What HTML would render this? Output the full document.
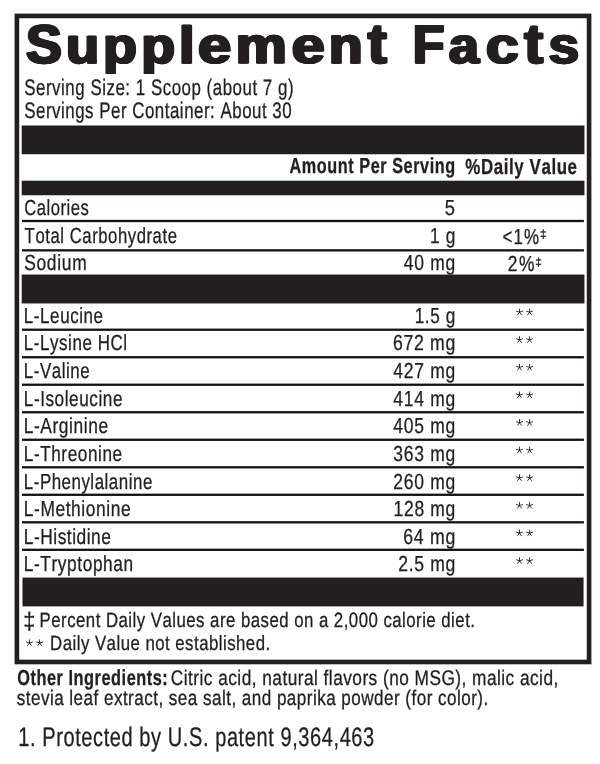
<!DOCTYPE html>
<html><head><meta charset="utf-8"><title>Supplement Facts</title>
<style>
html,body{margin:0;padding:0;background:#fff;}
body{width:600px;height:764px;overflow:hidden;}
svg{display:block;will-change:transform;}
svg text{text-rendering:geometricPrecision;font-family:"Liberation Sans",sans-serif;fill:#231f20;stroke:#231f20;stroke-width:0;font-kerning:none;}

</style></head>
<body>
<svg width="600" height="764" viewBox="0 0 600 764">
<rect x="0" y="0" width="600" height="764" fill="#fff"/>
<rect x="16.88" y="15.93" width="572.20" height="646.05" fill="none" stroke="#231f20" stroke-width="4.65"/>
<rect x="21.70" y="125.50" width="562.75" height="28.75" fill="#231f20"/>
<rect x="21.70" y="180.70" width="562.75" height="14.55" fill="#231f20"/>
<rect x="21.70" y="274.55" width="562.75" height="28.90" fill="#231f20"/>
<rect x="22.45" y="577.55" width="561.10" height="28.85" fill="#231f20"/>
<rect x="22.00" y="219.85" width="561.90" height="2.30" fill="#161213"/>
<rect x="22.00" y="249.20" width="561.90" height="2.30" fill="#161213"/>
<rect x="22.00" y="328.58" width="561.90" height="2.30" fill="#161213"/>
<rect x="22.00" y="356.09" width="561.90" height="2.30" fill="#161213"/>
<rect x="22.00" y="383.60" width="561.90" height="2.30" fill="#161213"/>
<rect x="22.00" y="411.11" width="561.90" height="2.30" fill="#161213"/>
<rect x="22.00" y="438.62" width="561.90" height="2.30" fill="#161213"/>
<rect x="22.00" y="466.13" width="561.90" height="2.30" fill="#161213"/>
<rect x="22.00" y="493.64" width="561.90" height="2.30" fill="#161213"/>
<rect x="22.00" y="521.15" width="561.90" height="2.30" fill="#161213"/>
<rect x="22.00" y="548.66" width="561.90" height="2.30" fill="#161213"/>
<text transform="translate(25.36,62.95) scale(0.5341,0.5448)" font-size="100.0" font-weight="bold" style="stroke-width:2.621px;stroke-linejoin:round">S</text>
<text transform="translate(26.16,62.95) scale(0.5341,0.5448)" font-size="100.0" font-weight="bold" style="stroke-width:2.621px;stroke-linejoin:round">S</text>
<text transform="translate(26.96,62.95) scale(0.5341,0.5448)" font-size="100.0" font-weight="bold" style="stroke-width:2.621px;stroke-linejoin:round">S</text>
<text transform="translate(65.14,63.06) scale(0.5425,0.5036)" font-size="100.0" font-weight="bold" style="stroke-width:2.580px;stroke-linejoin:round">u</text>
<text transform="translate(65.94,63.06) scale(0.5425,0.5036)" font-size="100.0" font-weight="bold" style="stroke-width:2.580px;stroke-linejoin:round">u</text>
<text transform="translate(66.74,63.06) scale(0.5425,0.5036)" font-size="100.0" font-weight="bold" style="stroke-width:2.580px;stroke-linejoin:round">u</text>
<text transform="translate(102.24,63.21) scale(0.5557,0.5037)" font-size="100.0" font-weight="bold" style="stroke-width:2.520px;stroke-linejoin:round">p</text>
<text transform="translate(103.04,63.21) scale(0.5557,0.5037)" font-size="100.0" font-weight="bold" style="stroke-width:2.520px;stroke-linejoin:round">p</text>
<text transform="translate(103.84,63.21) scale(0.5557,0.5037)" font-size="100.0" font-weight="bold" style="stroke-width:2.520px;stroke-linejoin:round">p</text>
<text transform="translate(140.58,63.21) scale(0.5497,0.5035)" font-size="100.0" font-weight="bold" style="stroke-width:2.547px;stroke-linejoin:round">p</text>
<text transform="translate(141.38,63.21) scale(0.5497,0.5035)" font-size="100.0" font-weight="bold" style="stroke-width:2.547px;stroke-linejoin:round">p</text>
<text transform="translate(142.18,63.21) scale(0.5497,0.5035)" font-size="100.0" font-weight="bold" style="stroke-width:2.547px;stroke-linejoin:round">p</text>
<text transform="translate(177.98,63.17) scale(0.5758,0.5207)" font-size="100.0" font-weight="bold" style="stroke-width:2.432px;stroke-linejoin:round">l</text>
<text transform="translate(178.78,63.17) scale(0.5758,0.5207)" font-size="100.0" font-weight="bold" style="stroke-width:2.432px;stroke-linejoin:round">l</text>
<text transform="translate(179.58,63.17) scale(0.5758,0.5207)" font-size="100.0" font-weight="bold" style="stroke-width:2.432px;stroke-linejoin:round">l</text>
<text transform="translate(197.10,63.11) scale(0.6016,0.5113)" font-size="100.0" font-weight="bold" style="stroke-width:2.327px;stroke-linejoin:round">e</text>
<text transform="translate(197.90,63.11) scale(0.6016,0.5113)" font-size="100.0" font-weight="bold" style="stroke-width:2.327px;stroke-linejoin:round">e</text>
<text transform="translate(198.70,63.11) scale(0.6016,0.5113)" font-size="100.0" font-weight="bold" style="stroke-width:2.327px;stroke-linejoin:round">e</text>
<text transform="translate(234.80,63.18) scale(0.5760,0.5134)" font-size="100.0" font-weight="bold" style="stroke-width:2.430px;stroke-linejoin:round">m</text>
<text transform="translate(235.60,63.18) scale(0.5760,0.5134)" font-size="100.0" font-weight="bold" style="stroke-width:2.430px;stroke-linejoin:round">m</text>
<text transform="translate(236.40,63.18) scale(0.5760,0.5134)" font-size="100.0" font-weight="bold" style="stroke-width:2.430px;stroke-linejoin:round">m</text>
<text transform="translate(290.87,63.10) scale(0.5964,0.5111)" font-size="100.0" font-weight="bold" style="stroke-width:2.347px;stroke-linejoin:round">e</text>
<text transform="translate(291.67,63.10) scale(0.5964,0.5111)" font-size="100.0" font-weight="bold" style="stroke-width:2.347px;stroke-linejoin:round">e</text>
<text transform="translate(292.47,63.10) scale(0.5964,0.5111)" font-size="100.0" font-weight="bold" style="stroke-width:2.347px;stroke-linejoin:round">e</text>
<text transform="translate(328.06,63.15) scale(0.5529,0.5107)" font-size="100.0" font-weight="bold" style="stroke-width:2.532px;stroke-linejoin:round">n</text>
<text transform="translate(328.86,63.15) scale(0.5529,0.5107)" font-size="100.0" font-weight="bold" style="stroke-width:2.532px;stroke-linejoin:round">n</text>
<text transform="translate(329.66,63.15) scale(0.5529,0.5107)" font-size="100.0" font-weight="bold" style="stroke-width:2.532px;stroke-linejoin:round">n</text>
<text transform="translate(367.11,62.81) scale(0.5638,0.5627)" font-size="100.0" font-weight="bold" style="stroke-width:2.483px;stroke-linejoin:round">t</text>
<text transform="translate(367.91,62.81) scale(0.5638,0.5627)" font-size="100.0" font-weight="bold" style="stroke-width:2.483px;stroke-linejoin:round">t</text>
<text transform="translate(368.71,62.81) scale(0.5638,0.5627)" font-size="100.0" font-weight="bold" style="stroke-width:2.483px;stroke-linejoin:round">t</text>
<text transform="translate(411.93,62.97) scale(0.5184,0.5413)" font-size="100.0" font-weight="bold" style="stroke-width:2.701px;stroke-linejoin:round">F</text>
<text transform="translate(412.73,62.97) scale(0.5184,0.5413)" font-size="100.0" font-weight="bold" style="stroke-width:2.701px;stroke-linejoin:round">F</text>
<text transform="translate(413.53,62.97) scale(0.5184,0.5413)" font-size="100.0" font-weight="bold" style="stroke-width:2.701px;stroke-linejoin:round">F</text>
<text transform="translate(448.12,63.04) scale(0.5401,0.5089)" font-size="100.0" font-weight="bold" style="stroke-width:2.592px;stroke-linejoin:round">a</text>
<text transform="translate(448.92,63.04) scale(0.5401,0.5089)" font-size="100.0" font-weight="bold" style="stroke-width:2.592px;stroke-linejoin:round">a</text>
<text transform="translate(449.72,63.04) scale(0.5401,0.5089)" font-size="100.0" font-weight="bold" style="stroke-width:2.592px;stroke-linejoin:round">a</text>
<text transform="translate(484.88,62.90) scale(0.5945,0.5110)" font-size="100.0" font-weight="bold" style="stroke-width:2.355px;stroke-linejoin:round">c</text>
<text transform="translate(485.68,62.90) scale(0.5945,0.5110)" font-size="100.0" font-weight="bold" style="stroke-width:2.355px;stroke-linejoin:round">c</text>
<text transform="translate(486.48,62.90) scale(0.5945,0.5110)" font-size="100.0" font-weight="bold" style="stroke-width:2.355px;stroke-linejoin:round">c</text>
<text transform="translate(523.51,62.81) scale(0.5671,0.5614)" font-size="100.0" font-weight="bold" style="stroke-width:2.469px;stroke-linejoin:round">t</text>
<text transform="translate(524.31,62.81) scale(0.5671,0.5614)" font-size="100.0" font-weight="bold" style="stroke-width:2.469px;stroke-linejoin:round">t</text>
<text transform="translate(525.11,62.81) scale(0.5671,0.5614)" font-size="100.0" font-weight="bold" style="stroke-width:2.469px;stroke-linejoin:round">t</text>
<text transform="translate(547.76,63.15) scale(0.5521,0.5107)" font-size="100.0" font-weight="bold" style="stroke-width:2.536px;stroke-linejoin:round">s</text>
<text transform="translate(548.56,63.15) scale(0.5521,0.5107)" font-size="100.0" font-weight="bold" style="stroke-width:2.536px;stroke-linejoin:round">s</text>
<text transform="translate(549.36,63.15) scale(0.5521,0.5107)" font-size="100.0" font-weight="bold" style="stroke-width:2.536px;stroke-linejoin:round">s</text>
<text transform="translate(24.23,94.50) scale(0.16938,0.22500)" font-size="100" style="stroke-width:1.333px;letter-spacing:2.961px">Serving Size: 1 Scoop (about 7 g)</text>
<text transform="translate(24.23,117.90) scale(0.16880,0.22500)" font-size="100" style="stroke-width:1.333px;letter-spacing:3.050px">Servings Per Container: About 30</text>
<text transform="translate(289.60,173.00) scale(0.16192,0.21800)" font-size="100" font-weight="bold" style="stroke-width:1.376px;letter-spacing:3.575px">Amount Per Serving</text>
<text transform="translate(465.28,174.30) scale(0.16876,0.21800)" font-size="100" font-weight="bold" style="stroke-width:1.376px;letter-spacing:3.578px">%Daily Value</text>
<text transform="translate(24.16,214.60) scale(0.16590,0.21800)" font-size="100" style="stroke-width:1.376px;letter-spacing:3.265px">Calories</text>
<text transform="translate(444.77,214.60) scale(0.18350,0.21800)" font-size="100" style="stroke-width:1.376px;letter-spacing:0.000px">5</text>
<text transform="translate(24.62,242.60) scale(0.16734,0.21800)" font-size="100" style="stroke-width:1.376px;letter-spacing:3.189px">Total Carbohydrate</text>
<text transform="translate(429.88,242.60) scale(0.17303,0.21800)" font-size="100" style="stroke-width:1.376px;letter-spacing:3.988px">1 g</text>
<text transform="translate(502.57,243.90) scale(0.16921,0.21800)" font-size="100" style="stroke-width:1.376px;letter-spacing:6.205px">&lt;1%</text>
<text transform="translate(24.21,270.40) scale(0.17342,0.21800)" font-size="100" style="stroke-width:1.376px;letter-spacing:4.186px">Sodium</text>
<text transform="translate(403.80,270.40) scale(0.17460,0.21800)" font-size="100" style="stroke-width:1.376px;letter-spacing:4.296px">40 mg</text>
<text transform="translate(507.83,271.30) scale(0.17357,0.21800)" font-size="100" style="stroke-width:1.376px;letter-spacing:8.677px">2%</text>
<text transform="translate(540.01,238.40) scale(0.11838,0.11800)" font-size="100" style="stroke-width:2.542px">‡</text>
<text transform="translate(535.21,266.00) scale(0.11838,0.11800)" font-size="100" style="stroke-width:2.542px">‡</text>
<text transform="translate(23.81,322.80) scale(0.16990,0.21800)" font-size="100" style="stroke-width:1.376px;letter-spacing:3.403px">L-Leucine</text>
<text transform="translate(414.69,322.80) scale(0.17234,0.21800)" font-size="100" style="stroke-width:1.376px;letter-spacing:3.325px">1.5 g</text>
<path d="M519.50 312.20L519.50 309.00M519.50 312.20L522.54 311.21M519.50 312.20L521.38 314.79M519.50 312.20L517.62 314.79M519.50 312.20L516.46 311.21" stroke="#231f20" stroke-width="0.9" stroke-linecap="round" fill="none"/>
<path d="M529.60 312.20L529.60 309.00M529.60 312.20L532.64 311.21M529.60 312.20L531.48 314.79M529.60 312.20L527.72 314.79M529.60 312.20L526.56 311.21" stroke="#231f20" stroke-width="0.9" stroke-linecap="round" fill="none"/>
<text transform="translate(23.81,350.42) scale(0.16995,0.21800)" font-size="100" style="stroke-width:1.376px;letter-spacing:3.235px">L-Lysine HCl</text>
<text transform="translate(392.90,350.42) scale(0.17631,0.21800)" font-size="100" style="stroke-width:1.376px;letter-spacing:4.111px">672 mg</text>
<path d="M519.50 339.82L519.50 336.62M519.50 339.82L522.54 338.83M519.50 339.82L521.38 342.41M519.50 339.82L517.62 342.41M519.50 339.82L516.46 338.83" stroke="#231f20" stroke-width="0.9" stroke-linecap="round" fill="none"/>
<path d="M529.60 339.82L529.60 336.62M529.60 339.82L532.64 338.83M529.60 339.82L531.48 342.41M529.60 339.82L527.72 342.41M529.60 339.82L526.56 338.83" stroke="#231f20" stroke-width="0.9" stroke-linecap="round" fill="none"/>
<text transform="translate(23.81,378.04) scale(0.16929,0.21800)" font-size="100" style="stroke-width:1.376px;letter-spacing:3.230px">L-Valine</text>
<text transform="translate(393.26,378.04) scale(0.17521,0.21800)" font-size="100" style="stroke-width:1.376px;letter-spacing:4.146px">427 mg</text>
<path d="M519.50 367.44L519.50 364.24M519.50 367.44L522.54 366.45M519.50 367.44L521.38 370.03M519.50 367.44L517.62 370.03M519.50 367.44L516.46 366.45" stroke="#231f20" stroke-width="0.9" stroke-linecap="round" fill="none"/>
<path d="M529.60 367.44L529.60 364.24M529.60 367.44L532.64 366.45M529.60 367.44L531.48 370.03M529.60 367.44L527.72 370.03M529.60 367.44L526.56 366.45" stroke="#231f20" stroke-width="0.9" stroke-linecap="round" fill="none"/>
<text transform="translate(23.79,405.66) scale(0.17227,0.21800)" font-size="100" style="stroke-width:1.376px;letter-spacing:3.055px">L-Isoleucine</text>
<text transform="translate(393.26,405.66) scale(0.17521,0.21800)" font-size="100" style="stroke-width:1.376px;letter-spacing:4.146px">414 mg</text>
<path d="M519.50 395.06L519.50 391.86M519.50 395.06L522.54 394.07M519.50 395.06L521.38 397.65M519.50 395.06L517.62 397.65M519.50 395.06L516.46 394.07" stroke="#231f20" stroke-width="0.9" stroke-linecap="round" fill="none"/>
<path d="M529.60 395.06L529.60 391.86M529.60 395.06L532.64 394.07M529.60 395.06L531.48 397.65M529.60 395.06L527.72 397.65M529.60 395.06L526.56 394.07" stroke="#231f20" stroke-width="0.9" stroke-linecap="round" fill="none"/>
<text transform="translate(23.77,433.28) scale(0.17414,0.21800)" font-size="100" style="stroke-width:1.376px;letter-spacing:3.143px">L-Arginine</text>
<text transform="translate(393.26,433.28) scale(0.17521,0.21800)" font-size="100" style="stroke-width:1.376px;letter-spacing:4.146px">405 mg</text>
<path d="M519.50 422.68L519.50 419.48M519.50 422.68L522.54 421.69M519.50 422.68L521.38 425.27M519.50 422.68L517.62 425.27M519.50 422.68L516.46 421.69" stroke="#231f20" stroke-width="0.9" stroke-linecap="round" fill="none"/>
<path d="M529.60 422.68L529.60 419.48M529.60 422.68L532.64 421.69M529.60 422.68L531.48 425.27M529.60 422.68L527.72 425.27M529.60 422.68L526.56 421.69" stroke="#231f20" stroke-width="0.9" stroke-linecap="round" fill="none"/>
<text transform="translate(23.79,460.90) scale(0.17155,0.21800)" font-size="100" style="stroke-width:1.376px;letter-spacing:3.361px">L-Threonine</text>
<text transform="translate(393.27,460.90) scale(0.17521,0.21800)" font-size="100" style="stroke-width:1.376px;letter-spacing:4.127px">363 mg</text>
<path d="M519.50 450.30L519.50 447.10M519.50 450.30L522.54 449.31M519.50 450.30L521.38 452.89M519.50 450.30L517.62 452.89M519.50 450.30L516.46 449.31" stroke="#231f20" stroke-width="0.9" stroke-linecap="round" fill="none"/>
<path d="M529.60 450.30L529.60 447.10M529.60 450.30L532.64 449.31M529.60 450.30L531.48 452.89M529.60 450.30L527.72 452.89M529.60 450.30L526.56 449.31" stroke="#231f20" stroke-width="0.9" stroke-linecap="round" fill="none"/>
<text transform="translate(23.82,488.52) scale(0.16851,0.21800)" font-size="100" style="stroke-width:1.376px;letter-spacing:3.212px">L-Phenylalanine</text>
<text transform="translate(393.29,488.52) scale(0.17521,0.21800)" font-size="100" style="stroke-width:1.376px;letter-spacing:4.112px">260 mg</text>
<path d="M519.50 477.92L519.50 474.72M519.50 477.92L522.54 476.93M519.50 477.92L521.38 480.51M519.50 477.92L517.62 480.51M519.50 477.92L516.46 476.93" stroke="#231f20" stroke-width="0.9" stroke-linecap="round" fill="none"/>
<path d="M529.60 477.92L529.60 474.72M529.60 477.92L532.64 476.93M529.60 477.92L531.48 480.51M529.60 477.92L527.72 480.51M529.60 477.92L526.56 476.93" stroke="#231f20" stroke-width="0.9" stroke-linecap="round" fill="none"/>
<text transform="translate(23.77,516.14) scale(0.17404,0.21800)" font-size="100" style="stroke-width:1.376px;letter-spacing:3.281px">L-Methionine</text>
<text transform="translate(393.57,516.14) scale(0.17448,0.21800)" font-size="100" style="stroke-width:1.376px;letter-spacing:4.078px">128 mg</text>
<path d="M519.50 505.54L519.50 502.34M519.50 505.54L522.54 504.55M519.50 505.54L521.38 508.13M519.50 505.54L517.62 508.13M519.50 505.54L516.46 504.55" stroke="#231f20" stroke-width="0.9" stroke-linecap="round" fill="none"/>
<path d="M529.60 505.54L529.60 502.34M529.60 505.54L532.64 504.55M529.60 505.54L531.48 508.13M529.60 505.54L527.72 508.13M529.60 505.54L526.56 504.55" stroke="#231f20" stroke-width="0.9" stroke-linecap="round" fill="none"/>
<text transform="translate(23.78,543.76) scale(0.17358,0.21800)" font-size="100" style="stroke-width:1.376px;letter-spacing:2.935px">L-Histidine</text>
<text transform="translate(403.30,543.76) scale(0.17642,0.21800)" font-size="100" style="stroke-width:1.376px;letter-spacing:4.251px">64 mg</text>
<path d="M519.50 533.16L519.50 529.96M519.50 533.16L522.54 532.17M519.50 533.16L521.38 535.75M519.50 533.16L517.62 535.75M519.50 533.16L516.46 532.17" stroke="#231f20" stroke-width="0.9" stroke-linecap="round" fill="none"/>
<path d="M529.60 533.16L529.60 529.96M529.60 533.16L532.64 532.17M529.60 533.16L531.48 535.75M529.60 533.16L527.72 535.75M529.60 533.16L526.56 532.17" stroke="#231f20" stroke-width="0.9" stroke-linecap="round" fill="none"/>
<text transform="translate(23.78,571.38) scale(0.17307,0.21800)" font-size="100" style="stroke-width:1.376px;letter-spacing:3.366px">L-Tryptophan</text>
<text transform="translate(398.21,571.38) scale(0.17603,0.21800)" font-size="100" style="stroke-width:1.376px;letter-spacing:3.756px">2.5 mg</text>
<path d="M519.50 560.78L519.50 557.58M519.50 560.78L522.54 559.79M519.50 560.78L521.38 563.37M519.50 560.78L517.62 563.37M519.50 560.78L516.46 559.79" stroke="#231f20" stroke-width="0.9" stroke-linecap="round" fill="none"/>
<path d="M529.60 560.78L529.60 557.58M529.60 560.78L532.64 559.79M529.60 560.78L531.48 563.37M529.60 560.78L527.72 563.37M529.60 560.78L526.56 559.79" stroke="#231f20" stroke-width="0.9" stroke-linecap="round" fill="none"/>
<text transform="translate(23.35,629.20) scale(0.21782,0.23700)" font-size="100" style="stroke-width:1.266px">‡</text>
<text transform="translate(39.62,626.50) scale(0.16775,0.20800)" font-size="100" style="stroke-width:1.442px;letter-spacing:2.864px">Percent Daily Values are based on a 2,000 calorie diet.</text>
<path d="M29.40 643.00L29.40 639.80M29.40 643.00L32.44 642.01M29.40 643.00L31.28 645.59M29.40 643.00L27.52 645.59M29.40 643.00L26.36 642.01" stroke="#231f20" stroke-width="0.9" stroke-linecap="round" fill="none"/>
<path d="M39.60 643.00L39.60 639.80M39.60 643.00L42.64 642.01M39.60 643.00L41.48 645.59M39.60 643.00L37.72 645.59M39.60 643.00L36.56 642.01" stroke="#231f20" stroke-width="0.9" stroke-linecap="round" fill="none"/>
<text transform="translate(50.12,649.60) scale(0.16772,0.20600)" font-size="100" style="stroke-width:1.456px;letter-spacing:2.876px">Daily Value not established.</text>
<text transform="translate(17.23,685.00) scale(0.16342,0.21800)" font-size="100" font-weight="bold" style="stroke-width:1.376px;letter-spacing:3.203px">Other Ingredients:</text>
<text transform="translate(170.82,684.90) scale(0.17253,0.21200)" font-size="100" style="stroke-width:1.415px;letter-spacing:2.733px">Citric acid, natural flavors (no MSG), malic acid,</text>
<text transform="translate(16.72,705.30) scale(0.17081,0.21200)" font-size="100" style="stroke-width:1.415px;letter-spacing:2.704px">stevia leaf extract, sea salt, and paprika powder (for color).</text>
<text transform="translate(18.28,745.50) scale(0.20001,0.26800)" font-size="100" style="stroke-width:1.119px;letter-spacing:2.946px">1. Protected by U.S. patent 9,364,463</text>
</svg>
</body></html>
